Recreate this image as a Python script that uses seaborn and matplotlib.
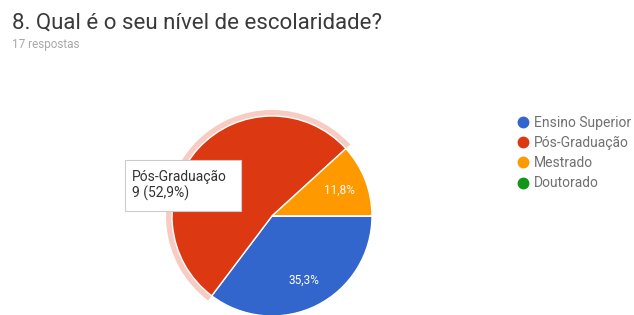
import matplotlib
matplotlib.use("Agg")
import matplotlib.pyplot as plt
from matplotlib.patches import Wedge, FancyBboxPatch
from matplotlib.lines import Line2D
import seaborn as sns

# Data (17 respostas)
categorias = ["Ensino Superior", "Pós-Graduação", "Mestrado", "Doutorado"]
respostas = [6, 9, 2, 0]
cores = ["#3366cc", "#dc3912", "#ff9900", "#109618"]
titulo = "8. Qual é o seu nível de escolaridade?"
subtitulo = "17 respostas"

sns.set_theme(style="white")
plt.rcParams['font.family'] = ['Roboto', 'DejaVu Sans']

fig = plt.figure(figsize=(6.34, 3.15), dpi=100)
ax = fig.add_axes([0, 0, 1, 1])

total = sum(respostas)

def pct_label(p):
    # only show labels on blue and orange slices (red one is under the tooltip)
    if p < 1 or p > 50:
        return ""
    return f"{p:.1f}%".replace(".", ",")

wedges, texts, autotexts = ax.pie(
    respostas, colors=cores, startangle=0, counterclock=False,
    center=(272, 99), radius=100, autopct=pct_label, pctdistance=0.72,
    wedgeprops=dict(linewidth=1, edgecolor="white"),
    textprops=dict(color="white", fontsize=8.5), frame=True,
)

# hover highlight ring behind the Pós-Graduação slice
w = wedges[1]
ring = Wedge(w.center, w.r + 6, w.theta1, w.theta2, facecolor="#f7cdc3",
             edgecolor="none", zorder=0)
ax.add_patch(ring)

ax.set_xlim(0, 634)
ax.set_ylim(0, 315)
ax.set_aspect("auto")
ax.axis("off")

# tooltip
tip = FancyBboxPatch((125, 104), 116, 51, boxstyle="square,pad=0",
                     facecolor="white", edgecolor="#cccccc", linewidth=0.8, zorder=5)
ax.add_patch(tip)
ax.text(132, 138, f"{categorias[1]}", fontsize=10, color="#333333", va="center", zorder=6)
ax.text(132, 122, f"{respostas[1]} ({respostas[1] / total * 100:.1f}%)".replace(".", ","),
        fontsize=10, color="#333333", va="center", zorder=6)

# title
fig.text(12 / 634, 1 - 29 / 315, titulo, fontsize=16, color="#3a3a3a")
fig.text(12 / 634, 1 - 48 / 315, subtitulo, fontsize=8.5, color="#a8a8a8")

# legend
handles = [Line2D([0], [0], marker="o", linestyle="none", markersize=7.5,
                  markerfacecolor=c, markeredgecolor=c) for c in cores]
ax.legend(handles, categorias, loc="upper left", bbox_to_anchor=(510 / 634, 1 - 110 / 315),
          frameon=False, fontsize=10, labelcolor="#707070", handletextpad=0.3,
          labelspacing=0.45, handlelength=1.0, borderaxespad=0)

fig.savefig("out.png", dpi=100)
